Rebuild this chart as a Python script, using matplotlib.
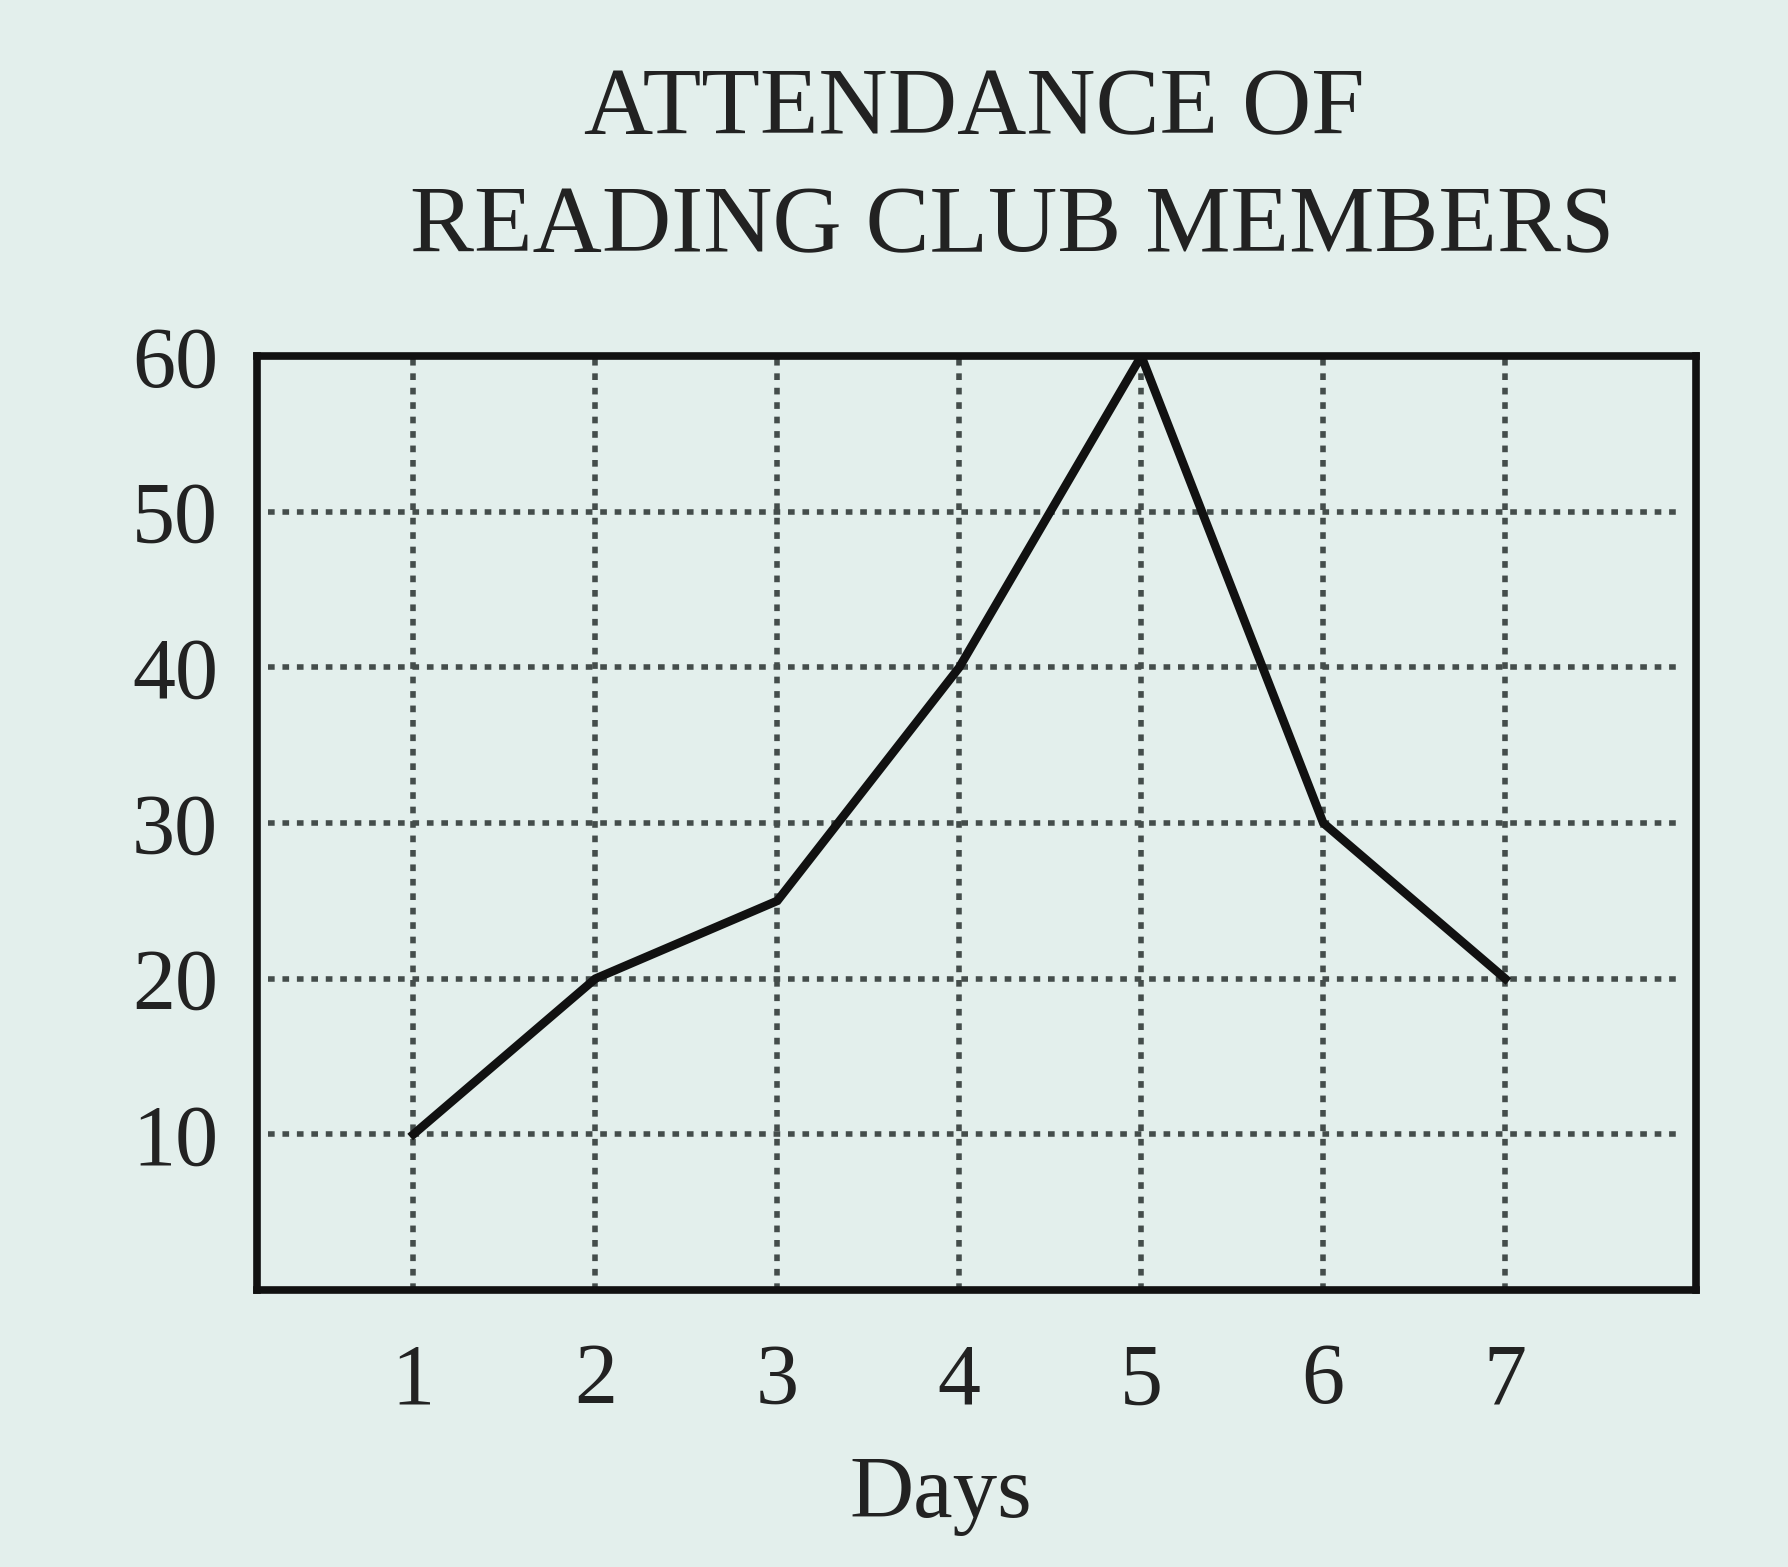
import matplotlib.pyplot as plt

days = [1, 2, 3, 4, 5, 6, 7]
attendance = [10, 20, 25, 40, 60, 30, 20]
y_ticks = [10, 20, 30, 40, 50, 60]

bg = '#e3efec'
plt.rcParams['font.family'] = ['Liberation Serif', 'DejaVu Serif']

fig = plt.figure(figsize=(17.88, 15.67), dpi=100, facecolor=bg)
ax = fig.add_axes([0.1437, 0.1768, 0.805, 0.596], facecolor=bg)

# dotted grid
for d in days:
    ax.axvline(d, color='#444d4b', lw=4, ls=(0, (1.2, 1.4)), zorder=1)
for v in y_ticks[:-1]:
    ax.hlines(v, 0.2, 7.95, color='#444d4b', lw=4, ls=(0, (1.2, 1.4)), zorder=1)

ax.plot(days, attendance, color='#111111', lw=6.2, solid_joinstyle='miter', zorder=3)

ax.set_xlim(0.14, 8.05)
ax.set_ylim(0, 60)
ax.set_xticks(days)
ax.set_yticks(y_ticks)
ax.tick_params(length=0, labelsize=62, colors='#222222')
ax.tick_params(axis='y', pad=28)
ax.tick_params(axis='x', pad=38)
for s in ax.spines.values():
    s.set_linewidth(5.5)
    s.set_color('#111111')

fig.text(0.545, 0.914, 'ATTENDANCE OF', ha='center', va='baseline', fontsize=69, color='#222222')
fig.text(0.566, 0.839, 'READING CLUB MEMBERS', ha='center', va='baseline', fontsize=69, color='#222222')
fig.text(0.526, 0.032, 'Days', ha='center', va='baseline', fontsize=64, color='#222222')

fig.savefig('out.png', dpi=100, facecolor=bg)
